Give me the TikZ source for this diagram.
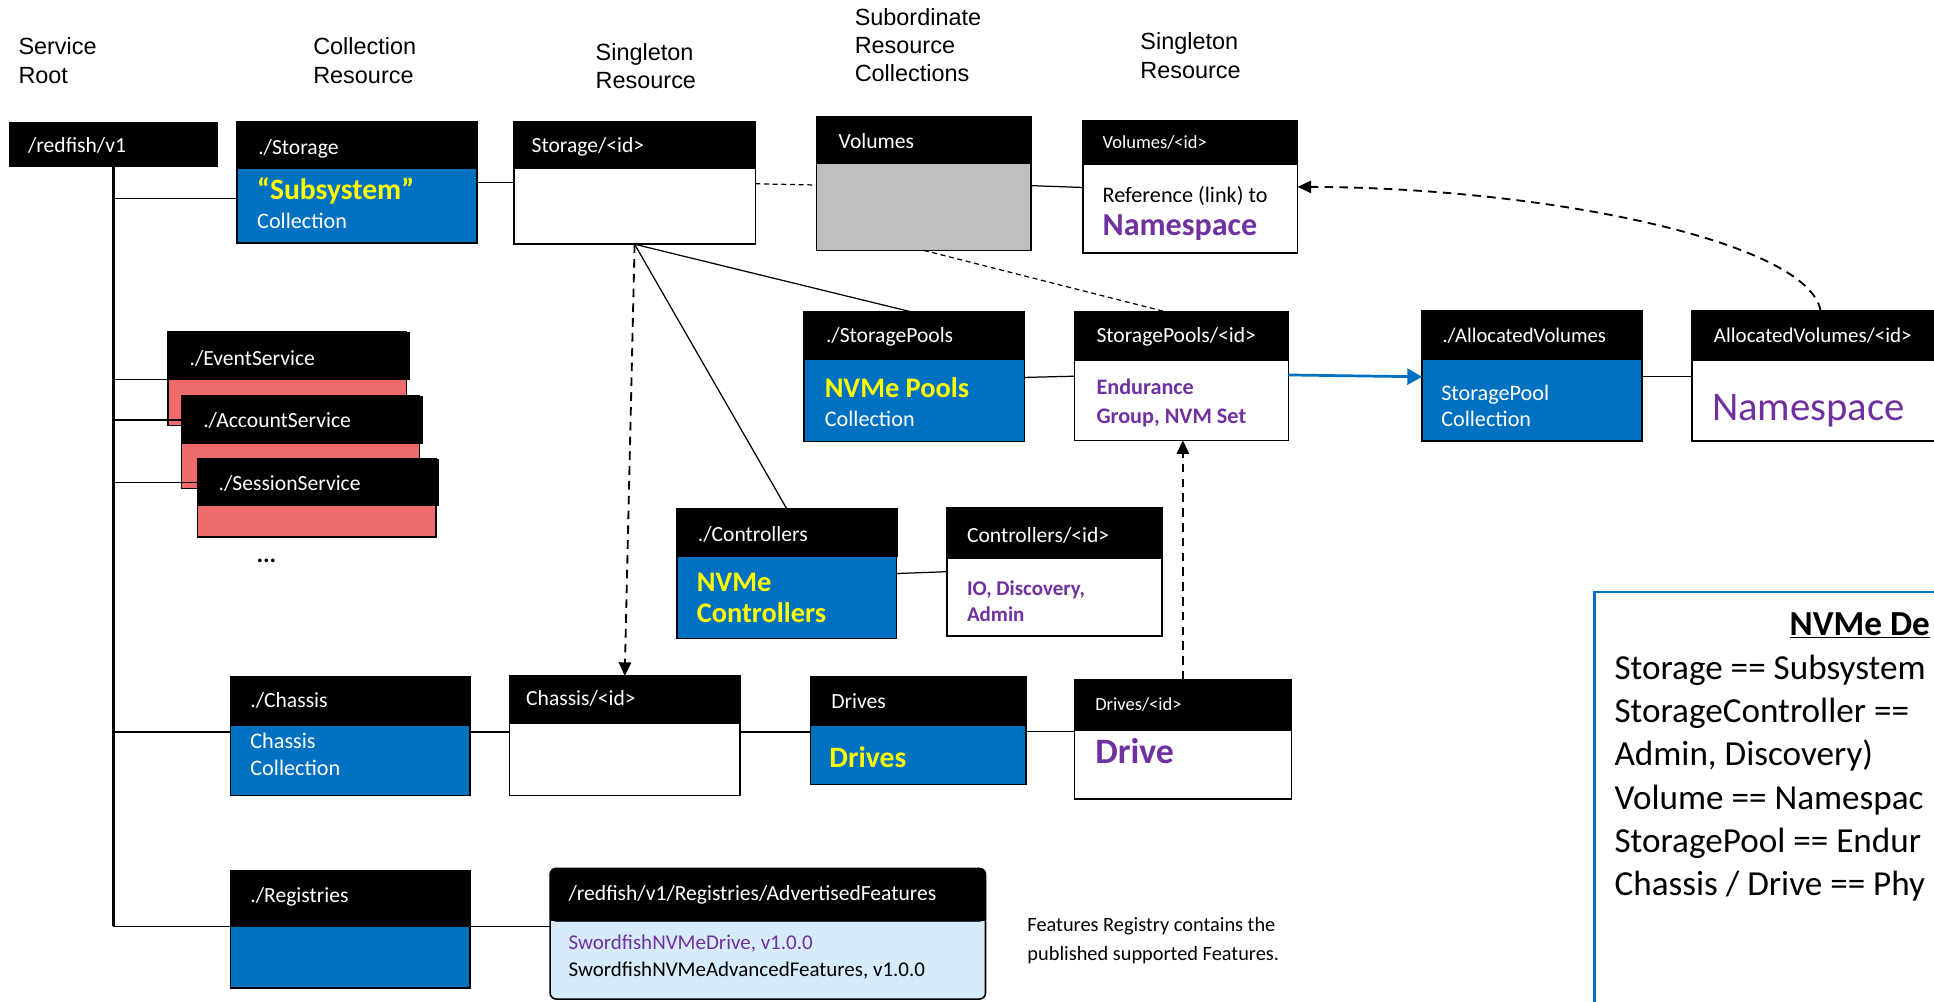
\documentclass[tikz,border=0pt]{standalone}
\usepackage{fontspec}
\setmainfont{Carlito}
\newfontfamily\arialfont{Liberation Sans}
\usetikzlibrary{fit,arrows.meta,calc}
\definecolor{hpblue}{RGB}{0,112,192}
\definecolor{pinkbody}{RGB}{240,108,108}
\definecolor{grayb}{RGB}{191,191,191}
\definecolor{yel}{RGB}{255,255,0}
\definecolor{purp}{RGB}{112,48,160}
\definecolor{lblue}{RGB}{214,235,251}
\newcommand{\fs}[1]{\fontsize{#1}{#1}\selectfont}
% #1 name, #2 x1, #3 y1, #4 x2 body, #5 x2 header, #6 y header bottom, #7 y2, #8 fill
\newcommand{\rbox}[8]{%
  \node[bodyb, fill=#8, fit={(#2,#3) (#4,#7)}] (#1) {};
  \node[headb, fit={(#2,#3) (#5,#6)}] (#1h) {};
}
\begin{document}
\begin{tikzpicture}[x=1pt,y=-1pt,
  bodyb/.style={draw=black, line width=1.3pt, inner sep=0pt, outer sep=0pt},
  headb/.style={fill=black, draw=black, line width=0.4pt, inner sep=0pt, outer sep=0pt},
  tx/.style={inner sep=0pt, outer sep=0pt, anchor=base west},
  ht/.style={tx, text=white, font=\fs{17.5}},
  hts/.style={tx, text=white, font=\fs{15}},
  lbl/.style={tx, font=\arialfont\fs{19}},
  yb/.style={tx, text=yel, font=\bfseries\fs{23}},
  wt/.style={tx, text=white, font=\fs{18}},
  pb/.style={tx, text=purp, font=\bfseries\fs{18}},
  conn/.style={draw=black, line width=1pt},
  trunk/.style={draw=black, line width=2pt},
  thind/.style={draw=black, line width=1pt, dash pattern=on 4pt off 3pt},
  dasharr/.style={draw=black, line width=1.5pt, dash pattern=on 7pt off 5pt, -{Triangle[length=11pt,width=10pt]}},
  bluearr/.style={draw=hpblue, line width=2.2pt, -{Triangle[length=12pt,width=13pt]}},
  defl/.style={tx, font=\fs{28.5}},
]
\useasboundingbox (0,0) rectangle (1568,811.6);
\clip (0,0) rectangle (1568,811.6);

% column labels
\node[lbl] (l1a) at (15,44.5) {Service};
\node[lbl] (l1b) at (15,67.5) {Root};
\node[lbl] (l2a) at (254,44.5) {Collection};
\node[lbl] (l2b) at (254,67.5) {Resource};
\node[lbl] (l3a) at (483,48.7) {Singleton};
\node[lbl] (l3b) at (483,71.6) {Resource};
\node[lbl] (l4a) at (693,20.3) {Subordinate};
\node[lbl] (l4b) at (693,43) {Resource};
\node[lbl] (l4c) at (693,66) {Collections};
\node[lbl] (l5a) at (924.6,40.5) {Singleton};
\node[lbl] (l5b) at (924.6,63.5) {Resource};

% service root
\node[headb, fit={(7.5,99) (176.5,134.5)}] (rf) {};
\node[ht] (rft) at (22.8,123.5) {/redfish/v1};

% ./Storage
\rbox{st}{192}{99}{386.5}{386.5}{136.5}{197}{hpblue}
\node[ht] (stt) at (209.4,124.9) {./Storage};
\node[yb, font=\bfseries\fs{24}] (stt2) at (208.5,161.7) {“Subsystem”};
\node[wt] (stt3) at (208.5,185) {Collection};

% Storage/<id>
\rbox{sid}{416.5}{99}{612.5}{612.5}{136}{198}{white}
\node[ht] (sidt) at (431,124) {Storage/<id>};

% Volumes
\rbox{vol}{662}{95}{836}{836}{132}{203}{grayb}
\node[ht] (volt) at (680,120) {Volumes};

% Volumes/<id>
\rbox{vid}{878}{98}{1052}{1052}{133}{205}{white}
\node[hts] (vidt) at (894,120) {Volumes/<id>};
\node[tx, font=\fs{18}] (vidt2) at (894,164) {Reference (link) to};
\node[tx, text=purp, font=\bfseries\fs{26}] (vidt3) at (894,191) {Namespace};

% pink service boxes
\rbox{ev}{136}{269}{329.5}{332}{307.5}{345}{pinkbody}
\node[ht] (evt) at (153.7,296) {./EventService};
\rbox{ac}{147}{321}{340}{342.5}{359}{396}{pinkbody}
\node[ht] (act) at (164.8,346.8) {./AccountService};
\rbox{ss}{160}{372}{353.3}{355.7}{410}{435.6}{pinkbody}
\node[ht] (sst) at (177.3,398) {./SessionService};
\node[tx, font=\bfseries\fs{20}] (dots) at (208,456) {...};

% ./StoragePools
\rbox{sp}{652}{252.7}{830.5}{830.5}{291}{358}{hpblue}
\node[ht] (spt) at (669.7,278) {./StoragePools};
\node[yb] (spt2) at (668.7,322) {NVMe Pools};
\node[wt] (spt3) at (668.7,346) {Collection};

% StoragePools/<id>
\rbox{spid}{871}{252.7}{1044.6}{1044.6}{292}{357}{white}
\node[ht] (spidt) at (889,278) {StoragePools/<id>};
\node[pb] (spidt2) at (889,320) {Endurance};
\node[pb] (spidt3) at (889,343) {Group, NVM Set};

% ./AllocatedVolumes
\rbox{av}{1153}{252}{1331}{1331}{291}{357.6}{hpblue}
\node[ht, font=\fs{16.8}] (avt) at (1169.5,278) {./AllocatedVolumes};
\node[wt] (avt2) at (1168.5,324.4) {StoragePool};
\node[wt] (avt3) at (1168.5,346) {Collection};

% AllocatedVolumes/<id>
\rbox{avid}{1372}{252}{1580}{1580}{292}{357.6}{white}
\node[ht, font=\fs{17}] (avidt) at (1389.6,278) {AllocatedVolumes/<id>};
\node[tx, text=purp, font=\fs{33}] (avidt2) at (1388,340.6) {Namespace};

% ./Controllers
\rbox{ctl}{548.8}{412.3}{726.7}{727.7}{450.7}{517.7}{hpblue}
\node[ht] (ctlt) at (565.8,439.3) {./Controllers};
\node[yb] (ctlt2) at (565,479.3) {NVMe};
\node[yb] (ctlt3) at (565,504.7) {Controllers};

% Controllers/<id>
\rbox{cid}{767.8}{412}{942}{942}{452.3}{515.8}{white}
\node[ht] (cidt) at (784,439.5) {Controllers/<id>};
\node[pb, font=\bfseries\fs{17}] (cidt2) at (784,483) {IO, Discovery,};
\node[pb, font=\bfseries\fs{17}] (cidt3) at (784,503.7) {Admin};

% ./Chassis
\rbox{ch}{186.8}{549}{381}{381}{588}{645}{hpblue}
\node[ht] (cht) at (203,574) {./Chassis};
\node[wt] (cht2) at (203,607) {Chassis};
\node[wt] (cht3) at (203,629) {Collection};

% Chassis/<id>
\rbox{chid}{413}{548}{600}{600}{586}{645}{white}
\node[ht] (chidt) at (426.6,571.8) {Chassis/<id>};

% Drives
\rbox{dr}{657}{549}{832}{832}{588}{636}{hpblue}
\node[ht] (drt) at (674,574.5) {Drives};
\node[yb, font=\bfseries\fs{24}] (drt2) at (672.5,622.3) {Drives};

% Drives/<id>
\rbox{did}{871}{551}{1047}{1047}{592}{648}{white}
\node[hts] (didt) at (888,576) {Drives/<id>};
\node[tx, text=purp, font=\bfseries\fs{29}] (didt2) at (888,619) {Drive};

% ./Registries
\rbox{reg}{187}{706}{381}{381}{751}{801}{hpblue}
\node[ht] (regt) at (203,732) {./Registries};

% AdvertisedFeatures
\node[bodyb, fill=lblue, rounded corners=5pt, fit={(446,704) (799,810)}] (adv) {};
\node[headb, rounded corners=5pt, fit={(446,704) (799,747)}] (advh) {};
\fill[black] (446.7,725) rectangle (798.3,747);
\node[ht] (advt) at (461,730) {/redfish/v1/Registries/AdvertisedFeatures};
\node[tx, text=purp, font=\fs{17}] (advt2) at (461,770) {SwordfishNVMeDrive, v1.0.0};
\node[tx, font=\fs{17}] (advt3) at (461,792) {SwordfishNVMeAdvancedFeatures, v1.0.0};

% note
\node[tx, font=\fs{16.5}] (note1) at (833,755) {Features Registry contains the};
\node[tx, font=\fs{16.5}] (note2) at (833,779) {published supported Features.};

% NVMe definitions box
\node[draw=hpblue, line width=2.2pt, inner sep=0pt, fit={(1293,480) (1640,860)}] (defbox) {};
\node[defl, font=\bfseries\fs{28.5}] (def0) at (1451,515) {\underline{NVMe De}};
\node[defl] (def1) at (1309,551) {Storage == Subsystem};
\node[defl] (def2) at (1309,586) {StorageController ==};
\node[defl] (def3) at (1309,621) {Admin, Discovery)};
\node[defl] (def4) at (1309,656) {Volume == Namespac};
\node[defl] (def5) at (1309,691) {StoragePool == Endur};
\node[defl] (def6) at (1309,726) {Chassis / Drive == Phy};

% connectors: trunk and branches
\draw[trunk] (rf.south) -- (rf.south |- regh.south);
\draw[conn] (rf.south |- 0,161) -- (st.west |- 0,161);
\draw[conn] (rf.south |- evh.south) -- (evh.south -| ev.west);
\draw[conn] (rf.south |- 0,340.6) -- (ac.west |- 0,340.6);
\draw[conn] (rf.south |- 0,391.4) -- (ss.west |- 0,391.4);
\draw[conn] (rf.south |- 0,593.4) -- (ch.west |- 0,593.4);
\draw[conn] (rf.south |- regh.south) -- (regh.south -| reg.west);

% storage links
\draw[conn] (st.east |- 0,148) -- (sid.west |- 0,148);
\draw[thind] (sid.east |- 0,149) -- (vol.west |- 0,150);
\draw[conn] (vol.east |- 0,150.5) -- (vid.west |- 0,152);
\draw[thind] (vol.south) -- ([xshift=-13pt]spid.north);
\draw[conn] (sid.south) -- ([xshift=-3pt]sp.north);
\draw[conn] (sid.south) -- (ctl.north);
\draw[dasharr] (sid.south) -- (chid.north);
\draw[conn] (sp.east |- 0,306) -- (spid.west |- 0,305);
\draw[bluearr] (spid.east |- 0,304) -- (av.west |- 0,305.5);
\draw[conn] (av.east |- 0,305) -- (avid.west |- 0,305);
\draw[dasharr] (avid.north) .. controls (1466,195) and (1250,152) .. (vid.east);
\draw[conn] (ctl.east |- 0,465) -- (cid.west |- 0,463.5);

% chassis links
\draw[conn] (ch.east |- 0,593.4) -- (chid.west |- 0,593.4);
\draw[conn] (chid.east |- 0,593.4) -- (dr.west |- 0,593.4);
\draw[conn] (dr.east |- 0,593) -- (did.west |- 0,593);
\draw[dasharr] (did.north) -- (did.north |- spid.south);

% registries link
\draw[conn] (reg.east |- regh.south) -- (adv.west |- regh.south);
\end{tikzpicture}
\end{document}
